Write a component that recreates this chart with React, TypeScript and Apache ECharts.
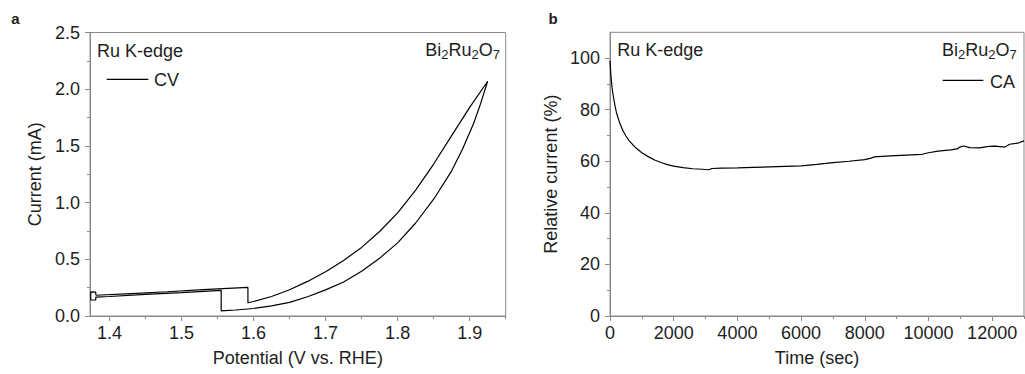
import React, { useEffect, useRef } from "react";
import * as echarts from "echarts";

// ---- Panel a: cyclic voltammogram (Potential V vs. RHE, Current mA)
const cvPotential = [
  1.381, 1.43, 1.48, 1.53, 1.5922,
  1.5922,
  1.6, 1.625, 1.65, 1.675, 1.7, 1.725, 1.75, 1.775, 1.8, 1.825, 1.85, 1.875, 1.9, 1.925,
  1.915, 1.905, 1.89, 1.875, 1.85, 1.825, 1.8, 1.775, 1.75, 1.725, 1.7, 1.675, 1.65, 1.625, 1.6, 1.575, 1.5551,
  1.5551,
  1.5, 1.45, 1.4, 1.381,
  1.381, 1.374, 1.374, 1.381, 1.381,
];
const cvCurrent = [
  0.183, 0.198, 0.214, 0.232, 0.252,
  0.117,
  0.128, 0.172, 0.232, 0.305, 0.39, 0.49, 0.605, 0.745, 0.91, 1.11, 1.34, 1.59, 1.84, 2.07,
  1.87, 1.69, 1.47, 1.28, 1.03, 0.82, 0.645, 0.51, 0.395, 0.3, 0.23, 0.17, 0.12, 0.09, 0.066, 0.053, 0.046,
  0.226,
  0.207, 0.19, 0.172, 0.166,
  0.143, 0.141, 0.213, 0.21, 0.185,
];

// ---- Panel b: chronoamperometry (Time sec, Relative current %)
const caTime = [
  0, 30, 60, 100, 150, 200, 300, 400, 500, 600, 800, 1000, 1200, 1400, 1600, 1800, 2000,
  2300, 2600, 2900, 3100, 3200, 3500, 4000, 4500, 5000, 5500, 6000, 6500, 7000, 7500, 8000,
  8200, 8300, 8800, 9300, 9800, 10000, 10300, 10700, 10900, 11000, 11100, 11300, 11600,
  11900, 12100, 12400, 12550, 12800, 13000,
];
const caRelative = [
  99, 93, 89, 85.5, 82, 79, 75, 72, 69.8, 68, 65.3, 63.3, 61.8, 60.5, 59.5, 58.7, 58.1,
  57.5, 57.1, 56.9, 56.7, 57.2, 57.3, 57.4, 57.6, 57.8, 58.0, 58.2, 58.8, 59.5, 60.0, 60.6,
  61.2, 61.7, 62.1, 62.4, 62.7, 63.3, 63.9, 64.4, 64.8, 65.6, 65.9, 65.3, 65.2,
  65.8, 65.9, 65.5, 66.6, 67.0, 67.9,
];

// ---- Axis tick values
const cvXTicks = [1.4, 1.5, 1.6, 1.7, 1.8, 1.9];
const cvXMinor = [1.45, 1.55, 1.65, 1.75, 1.85, 1.95];
const caXTicks = [0, 2000, 4000, 6000, 8000, 10000, 12000];
const caXMinor = [1000, 3000, 5000, 7000, 9000, 11000, 13000];
const caYTicks = [0, 20, 40, 60, 80, 100];
const caYMinor = [10, 30, 50, 70, 90];

const FONT = "'Liberation Sans', Arial, Helvetica, sans-serif";
const AXIS_COLOR = "#8a8a8a";
const TEXT_COLOR = "#1e1e1e";
const FS = 18;

const richFormula = (x: number, y: number) => ({
  type: "text",
  x,
  y,
  style: {
    text: "{n|Bi}{s|2}{n|Ru}{s|2}{n|O}{s|7}",
    align: "right",
    textAlign: "right",
    verticalAlign: "middle",
    textVerticalAlign: "middle",
    fill: TEXT_COLOR,
    rich: {
      n: { fontSize: FS, fontFamily: FONT, lineHeight: 22, fill: TEXT_COLOR, verticalAlign: "middle" },
      s: { fontSize: 13, fontFamily: FONT, lineHeight: 10, fill: TEXT_COLOR, verticalAlign: "bottom" },
    },
  },
});

const plainText = (txt: string, x: number, y: number, size = FS, weight = "normal", align = "left") => ({
  type: "text",
  x,
  y,
  style: {
    text: txt,
    fontSize: size,
    fontFamily: FONT,
    fontWeight: weight,
    fill: TEXT_COLOR,
    align,
    textAlign: align,
    verticalAlign: "middle",
    textVerticalAlign: "middle",
  },
});

const legendLine = (x1: number, x2: number, y: number) => ({
  type: "line",
  shape: { x1, y1: y, x2, y2: y },
  style: { stroke: "#000", lineWidth: 1.2 },
});

function mainAxis(gridIndex: number, min: number, max: number, ticks: number[], fmt: (v: number) => string, extra: any) {
  return {
    type: "value",
    gridIndex,
    min,
    max,
    axisLine: { show: true, lineStyle: { color: AXIS_COLOR, width: 1 } },
    axisTick: { show: true, length: 5, customValues: ticks, lineStyle: { color: AXIS_COLOR, width: 1 } },
    axisLabel: { customValues: ticks, formatter: fmt, fontSize: FS, fontFamily: FONT, color: TEXT_COLOR },
    splitLine: { show: false },
    nameLocation: "middle",
    nameTextStyle: { fontSize: FS, fontFamily: FONT, color: TEXT_COLOR },
    ...extra,
  };
}

function minorAxis(gridIndex: number, min: number, max: number, ticks: number[], position: string) {
  return {
    type: "value",
    gridIndex,
    min,
    max,
    position,
    axisLine: { show: true, lineStyle: { color: AXIS_COLOR, width: 1 } },
    axisTick: { show: true, length: 3, customValues: ticks, lineStyle: { color: AXIS_COLOR, width: 1 } },
    axisLabel: { show: false },
    splitLine: { show: false },
  };
}

export default function App() {
  const ref = useRef<HTMLDivElement>(null);

  useEffect(() => {
    if (!ref.current) return;
    const chart = echarts.init(ref.current, undefined, { renderer: "svg" });

    const cvData = cvPotential.map((v, i) => [v, cvCurrent[i]]);
    const caData = caTime.map((t, i) => [t, caRelative[i]]);

    chart.setOption({
      animation: false,
      backgroundColor: "#ffffff",
      textStyle: { fontFamily: FONT },
      grid: [
        { left: 90, top: 32.5, width: 415.7, height: 283.5, show: true, borderColor: AXIS_COLOR, borderWidth: 1, backgroundColor: "transparent" },
        { left: 610, top: 32.3, width: 414, height: 283.7, show: true, borderColor: AXIS_COLOR, borderWidth: 1, backgroundColor: "transparent" },
      ],
      xAxis: [
        mainAxis(0, 1.373, 1.95, cvXTicks, (v: number) => v.toFixed(1), {
          position: "bottom",
          name: "Potential (V vs. RHE)",
          nameGap: 33,
          axisLabel: { customValues: cvXTicks, formatter: (v: number) => v.toFixed(1), fontSize: FS, fontFamily: FONT, color: TEXT_COLOR, margin: 8 },
        }),
        minorAxis(0, 1.373, 1.95, cvXMinor, "bottom"),
        mainAxis(1, 0, 13000, caXTicks, (v: number) => String(v), {
          position: "bottom",
          name: "Time (sec)",
          nameGap: 33,
          axisLabel: { customValues: caXTicks, formatter: (v: number) => String(v), fontSize: FS, fontFamily: FONT, color: TEXT_COLOR, margin: 8 },
        }),
        minorAxis(1, 0, 13000, caXMinor, "bottom"),
      ],
      yAxis: [
        {
          type: "value",
          gridIndex: 0,
          min: 0,
          max: 2.5,
          interval: 0.5,
          position: "left",
          axisLine: { show: true, lineStyle: { color: AXIS_COLOR, width: 1 } },
          axisTick: { show: true, length: 5, lineStyle: { color: AXIS_COLOR, width: 1 } },
          minorTick: { show: true, splitNumber: 2, length: 3, lineStyle: { color: AXIS_COLOR, width: 1 } },
          axisLabel: { formatter: (v: number) => v.toFixed(1), fontSize: FS, fontFamily: FONT, color: TEXT_COLOR, margin: 10 },
          splitLine: { show: false },
          minorSplitLine: { show: false },
          name: "Current (mA)",
          nameLocation: "middle",
          nameGap: 46,
          nameTextStyle: { fontSize: FS, fontFamily: FONT, color: TEXT_COLOR },
        },
        mainAxis(1, 0, 110, caYTicks, (v: number) => String(v), {
          position: "left",
          name: "Relative current (%)",
          nameGap: 50,
          axisLabel: { customValues: caYTicks, formatter: (v: number) => String(v), fontSize: FS, fontFamily: FONT, color: TEXT_COLOR, margin: 10 },
        }),
        minorAxis(1, 0, 110, caYMinor, "left"),
      ],
      series: [
        {
          type: "line",
          name: "CV",
          xAxisIndex: 0,
          yAxisIndex: 0,
          data: cvData,
          showSymbol: false,
          symbol: "none",
          lineStyle: { color: "#000", width: 1.2 },
          silent: true,
        },
        {
          type: "line",
          name: "CA",
          xAxisIndex: 2,
          yAxisIndex: 1,
          data: caData,
          showSymbol: false,
          symbol: "none",
          lineStyle: { color: "#000", width: 1.2 },
          silent: true,
        },
      ],
      graphic: [
        plainText("a", 15.5, 18, 15, "bold", "center"),
        plainText("b", 553, 18.5, 15, "bold", "center"),
        plainText("Ru K-edge", 97, 50.5),
        legendLine(106.7, 148.3, 79.3),
        plainText("CV", 154, 80),
        richFormula(500, 50),
        plainText("Ru K-edge", 617.3, 49.5),
        richFormula(1016.7, 50),
        legendLine(942.7, 983.3, 80.3),
        plainText("CA", 990, 81.5),
      ],
    });

    return () => chart.dispose();
  }, []);

  return (
    <div
      ref={ref}
      style={{ position: "fixed", left: 0, top: 0, width: 1025, height: 374, background: "#fff" }}
    />
  );
}
